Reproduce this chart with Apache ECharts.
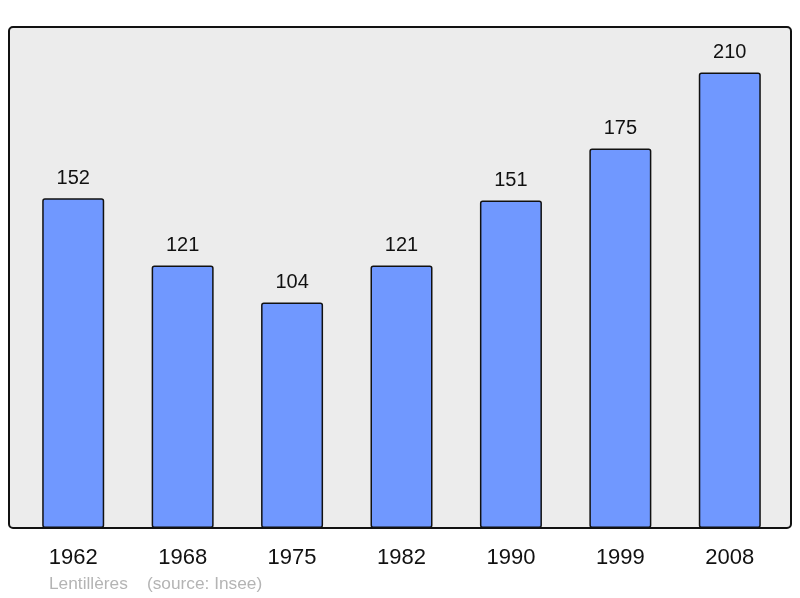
<!DOCTYPE html>
<html>
<head>
<meta charset="utf-8">
<script src="https://cdn.jsdelivr.net/npm/echarts@6/dist/echarts.min.js"></script>
<style>
  html, body { margin: 0; padding: 0; background: #fff; }
  #chart { width: 800px; height: 598px; }
</style>
</head>
<body>
<div id="chart"></div>
<script>
// années et population
var years = ['1962', '1968', '1975', '1982', '1990', '1999', '2008'];
var population = [152, 121, 104, 121, 151, 175, 210];

var chart = echarts.init(document.getElementById('chart'));

var option = {
  animation: false,
  // fond gris avec bordure arrondie
  graphic: [
    {
      type: 'rect',
      z: -10,
      shape: { x: 9, y: 27, width: 782, height: 501, r: 4 },
      style: { fill: '#ececec', stroke: '#111', lineWidth: 2 }
    },
    {
      type: 'text',
      left: 49,
      top: 576,
      style: {
        text: 'Lentillères    (source: Insee)',
        fill: '#b4b4b4',
        font: '17.3px "Liberation Sans", Arial, sans-serif'
      }
    }
  ],
  grid: { left: 18.5, right: 15.5, top: 27, bottom: 70 },
  xAxis: {
    type: 'category',
    data: years,
    axisLine: { show: false },
    axisTick: { show: false },
    axisLabel: {
      margin: 19,
      fontSize: 22,
      color: '#111',
      fontFamily: '"Liberation Sans", Arial, sans-serif'
    }
  },
  yAxis: {
    type: 'value',
    min: 0,
    max: 231,
    show: false,
    splitLine: { show: false }
  },
  series: [
    {
      type: 'bar',
      data: population,
      barWidth: 62,
      itemStyle: {
        color: '#7098ff',
        borderColor: '#111',
        borderWidth: 1.5,
        borderRadius: 2
      },
      label: {
        show: true,
        position: 'top',
        distance: 10,
        fontSize: 20,
        color: '#111',
        fontFamily: '"Liberation Sans", Arial, sans-serif'
      }
    }
  ]
};

chart.setOption(option);
</script>
</body>
</html>
